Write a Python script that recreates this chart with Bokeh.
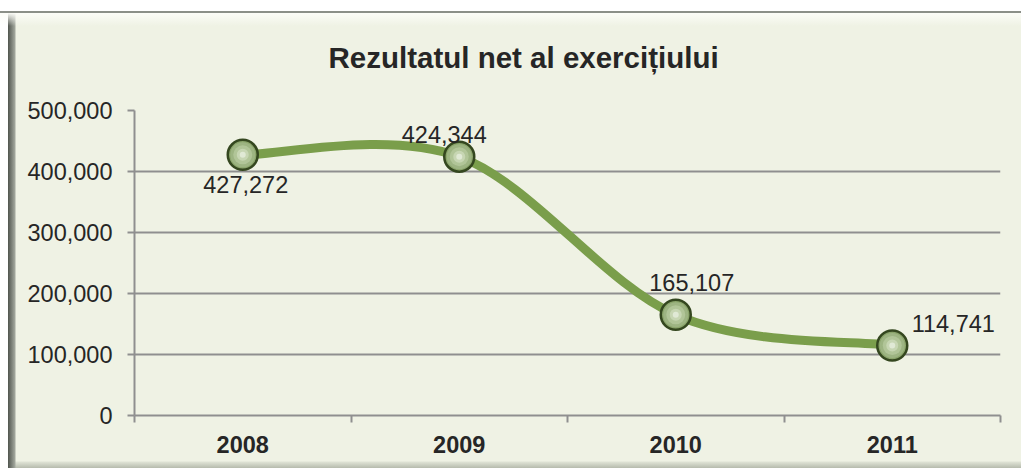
from bokeh.plotting import figure
from bokeh.models import FixedTicker, NumeralTickFormatter, ColumnDataSource, Range1d
from bokeh.embed import file_html
from bokeh.resources import INLINE
from bokeh.core.properties import value

# ---- data ----
categories = ["2008", "2009", "2010", "2011"]
values = [427272, 424344, 165107, 114741]
labels = ["427,272", "424,344", "165,107", "114,741"]
y_ticks = [0, 100000, 200000, 300000, 400000, 500000]
title_text = "Rezultatul net al exercițiului"

# ---- positions (category index) ----
xs = list(range(len(categories)))
boundaries = [i - 0.5 for i in range(len(categories) + 1)]

# smoothed line (Catmull-Rom -> cubic Bezier, as Excel's smoothed line)
n = len(xs)
bz = dict(x0=[], y0=[], x1=[], y1=[], cx0=[], cy0=[], cx1=[], cy1=[])
for i in range(n - 1):
    a = max(i - 1, 0)
    b = min(i + 2, n - 1)
    bz["x0"].append(xs[i]); bz["y0"].append(values[i])
    bz["x1"].append(xs[i + 1]); bz["y1"].append(values[i + 1])
    bz["cx0"].append(xs[i] + (xs[i + 1] - xs[a]) / 6)
    bz["cy0"].append(values[i] + (values[i + 1] - values[a]) / 6)
    bz["cx1"].append(xs[i + 1] - (xs[b] - xs[i]) / 6)
    bz["cy1"].append(values[i + 1] - (values[b] - values[i]) / 6)

FONT = "Liberation Sans"
BG = "#eff2e4"
GRID = "#8f8f8f"
TXT = "#262626"

p = figure(width=1021, height=468, output_backend="svg", toolbar_location=None,
           x_range=Range1d(-0.5, len(categories) - 0.5), y_range=Range1d(0, 500000),
           min_border_left=134, min_border_right=21, min_border_top=110, min_border_bottom=53)

p.background_fill_color = BG
p.border_fill_color = BG
p.border_fill_alpha = 0
p.outline_line_color = None
p.styles = {
    "background": (
        "linear-gradient(to bottom, #ffffff 0px, #ffffff 11px, #8b8f88 11px, #8b8f88 13px, "
        "#fbfcf7 13px, rgba(239,242,228,0) 26px), "
        "linear-gradient(to right, #ffffff 0px, #ffffff 8px, #50554e 8px, #a3a89e 15px, "
        "rgba(239,242,228,0) 16px), "
        "linear-gradient(to top, #b6bbad 0px, #dfe3d5 6px, rgba(239,242,228,0) 7px), "
        + BG
    ),
}

# title
p.title.text = title_text
p.title.align = "left"
p.title.offset = 194
p.title.text_font = FONT
p.title.text_font_size = "29.5px"
p.title.text_font_style = "bold"
p.title.text_color = TXT
p.title.standoff = 74

# grid
p.xgrid.grid_line_color = None
p.ygrid.ticker = FixedTicker(ticks=y_ticks)
p.ygrid.grid_line_color = GRID
p.ygrid.grid_line_width = 2

# y axis
p.yaxis.ticker = FixedTicker(ticks=y_ticks)
p.yaxis.formatter = NumeralTickFormatter(format="0,0")
p.yaxis.axis_line_color = GRID
p.yaxis.axis_line_width = 2
p.yaxis.major_tick_line_color = GRID
p.yaxis.major_tick_line_width = 2
p.yaxis.major_tick_out = 7
p.yaxis.major_tick_in = 0
p.yaxis.minor_tick_line_color = None
p.yaxis.major_label_standoff = 15
p.yaxis.major_label_text_font = FONT
p.yaxis.major_label_text_font_size = "23.5px"
p.yaxis.major_label_text_color = TXT

# x axis
p.xaxis.ticker = FixedTicker(ticks=xs, minor_ticks=boundaries)
p.xaxis.major_label_overrides = {x: c for x, c in zip(xs, categories)}
p.xaxis.axis_line_color = GRID
p.xaxis.axis_line_width = 2
p.xaxis.major_tick_line_color = None
p.xaxis.major_tick_out = 0
p.xaxis.major_tick_in = 0
p.xaxis.minor_tick_line_color = GRID
p.xaxis.minor_tick_line_width = 2
p.xaxis.minor_tick_out = 7
p.xaxis.minor_tick_in = 0
p.xaxis.major_label_standoff = 13
p.xaxis.major_label_text_font = FONT
p.xaxis.major_label_text_font_size = "23.5px"
p.xaxis.major_label_text_font_style = "bold"
p.xaxis.major_label_text_color = TXT

# line
p.bezier(source=ColumnDataSource(bz), x0="x0", y0="y0", x1="x1", y1="y1",
         cx0="cx0", cy0="cy0", cx1="cx1", cy1="cy1",
         line_color="#7a9e4b", line_width=9, line_cap="round")

# sphere markers
src = ColumnDataSource(dict(x=xs, y=values, label=labels,
                            dx=[3, -15, 16, 61], dy=[30, -22, -32, -22]))
p.scatter("x", "y", source=src, size=30, fill_color="#8aa46a",
          line_color="#34471f", line_width=2.5)
p.scatter("x", "y", source=src, size=25, fill_color="#9db482", line_color=None)
p.scatter("x", "y", source=src, size=19, fill_color="#b1c598", line_color=None)
p.scatter("x", "y", source=src, size=12, fill_color="#c7d6b3", line_color=None)
p.scatter("x", "y", source=src, size=6, fill_color="#e0e9d5", line_color=None)

# data labels
p.text("x", "y", text="label", source=src, x_offset="dx", y_offset="dy",
       text_align="center", text_baseline="middle",
       text_font=value(FONT), text_font_size="23.5px", text_color=TXT)

open("out.html", "w").write(file_html(p, INLINE))
